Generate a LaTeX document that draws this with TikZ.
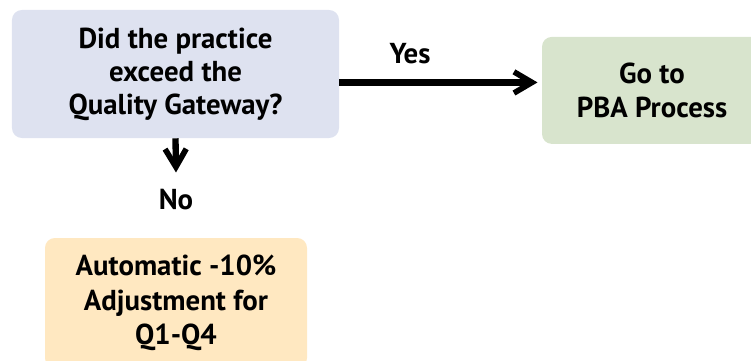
\documentclass[tikz,border=0pt]{standalone}
\usepackage{fontspec}
\setmainfont{PT Sans}
\usepackage{tikz}
\usetikzlibrary{arrows.meta, positioning, calc}
\definecolor{mydark}{RGB}{0,0,0}
\definecolor{hdrblue}{RGB}{222,226,240}
\definecolor{hdrgreen}{RGB}{216,228,205}
\definecolor{hdramber}{RGB}{255,232,193}
\tikzset{
  box/.style={rectangle, draw=none, align=center,
    font=\fontsize{20.5}{23.5}\selectfont\bfseries,
    rounded corners=7pt, inner sep=0pt},
  lbl/.style={font=\fontsize{20.5}{23.5}\selectfont\bfseries, inner sep=0pt},
  arrow/.style={-{Straight Barb[length=4.5mm, width=5.3mm, line width=4pt]},
    line width=4.5pt, color=mydark}
}

\begin{document}
\begin{tikzpicture}
  \clip (0,0) rectangle (18.775,9);
  \node[box, fill=hdrblue, minimum width=8.175cm, minimum height=3.2cm]
    (q) at (4.3875,7.15) {Did the practice\\exceed the\\Quality Gateway?};
  \node[box, fill=hdrgreen, minimum width=5.5cm, minimum height=2.675cm]
    (go) at (16.3,6.74) {Go to\\PBA Process};
  \node[box, fill=hdramber, minimum width=6.55cm, minimum height=3.25cm,
    font=\fontsize{20.5}{24.5}\selectfont\bfseries]
    (adj) at (4.4,1.425) {Automatic -10\%\\Adjustment for\\Q1-Q4};
  \node[lbl] (yes) at (10.25,7.65) {Yes};
  \node[lbl] (no) at (4.4,4.0) {No};
  \draw[arrow] ([yshift=-6pt]q.east) -- ([xshift=-3pt,yshift=-6pt]q.east -| go.west);
  \draw[arrow] (q.south) -- ([yshift=12pt]no.north);
\end{tikzpicture}
\end{document}
